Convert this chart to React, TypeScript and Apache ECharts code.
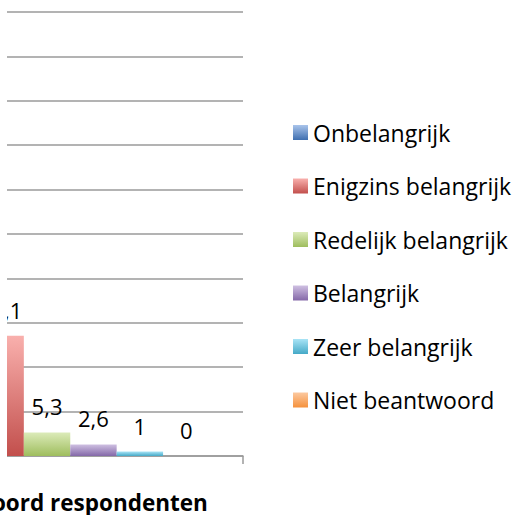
import React, { useEffect, useRef } from "react";
import * as echarts from "echarts";

const categories = ["Antwoord respondenten"];
const seriesNames = [
  "Onbelangrijk",
  "Enigzins belangrijk",
  "Redelijk belangrijk",
  "Belangrijk",
  "Zeer belangrijk",
  "Niet beantwoord",
];
const seriesValues = [64, 27.1, 5.3, 2.6, 1, 0];
const colorTop = ["#a9c4eb", "#f9b0ad", "#dcebb9", "#cfc0e2", "#a9e4f6", "#fcc9a0"];
const colorBottom = ["#3f6fb0", "#c24f4c", "#9ebd5d", "#8468a8", "#45a9c7", "#f5913c"];
const yMin = 0;
const yMax = 100;
const yInterval = 10;

const FONT = "'Open Sans', sans-serif";

export default function App() {
  const ref = useRef<HTMLDivElement>(null);
  useEffect(() => {
    if (!ref.current) return;
    const chart = echarts.init(ref.current, undefined, { renderer: "svg" });
    const series = seriesNames.map((name, i) => ({
      name,
      type: "bar",
      data: [seriesValues[i]],
      barGap: "0%",
      barCategoryGap: "19.4%",
      itemStyle: {
        color: new echarts.graphic.LinearGradient(0, 0, 0, 1, [
          { offset: 0, color: colorTop[i] },
          { offset: 1, color: colorBottom[i] },
        ]),
      },
      label: {
        show: true,
        position: "top",
        distance: 15,
        color: "#000",
        fontFamily: FONT,
        fontSize: 22,
        formatter: (p: any) => String(p.value).replace(".", ","),
      },
    }));
    chart.setOption({
      animation: false,
      backgroundColor: "#fff",
      grid: {
        left: -102.5,
        top: 12,
        width: 345.5,
        height: 444,
        containLabel: false,
        outerBoundsMode: "none",
      },
      legend: {
        orient: "vertical",
        left: 293,
        top: 121,
        padding: 0,
        itemWidth: 15,
        itemHeight: 15,
        itemGap: 30.5,
        icon: "rect",
        data: seriesNames,
        textStyle: {
          fontFamily: FONT,
          fontSize: 23,
          lineHeight: 23,
          color: "#000",
        },
      },
      xAxis: {
        type: "category",
        data: categories,
        axisLine: { show: true, lineStyle: { color: "#9a9a9a", width: 1.5 } },
        axisTick: { show: true, length: 8, lineStyle: { color: "#9a9a9a", width: 1.5 } },
        axisLabel: {
          margin: 35,
          fontFamily: FONT,
          fontSize: 22.5,
          fontWeight: "bold",
          color: "#000",
        },
      },
      yAxis: {
        type: "value",
        min: yMin,
        max: yMax,
        interval: yInterval,
        axisLine: { show: false },
        axisTick: { show: false },
        axisLabel: { show: false },
        splitLine: { lineStyle: { color: "#9a9a9a", width: 1.5 } },
      },
      graphic: [
        {
          type: "rect",
          left: 0,
          top: 0,
          z: 100,
          shape: { x: 0, y: 0, width: 7, height: 470 },
          style: { fill: "#fff" },
        },
      ],
      series,
    });
    return () => chart.dispose();
  }, []);
  return (
    <div
      ref={ref}
      style={{ position: "fixed", left: 0, top: 0, width: 517, height: 515 }}
    />
  );
}
